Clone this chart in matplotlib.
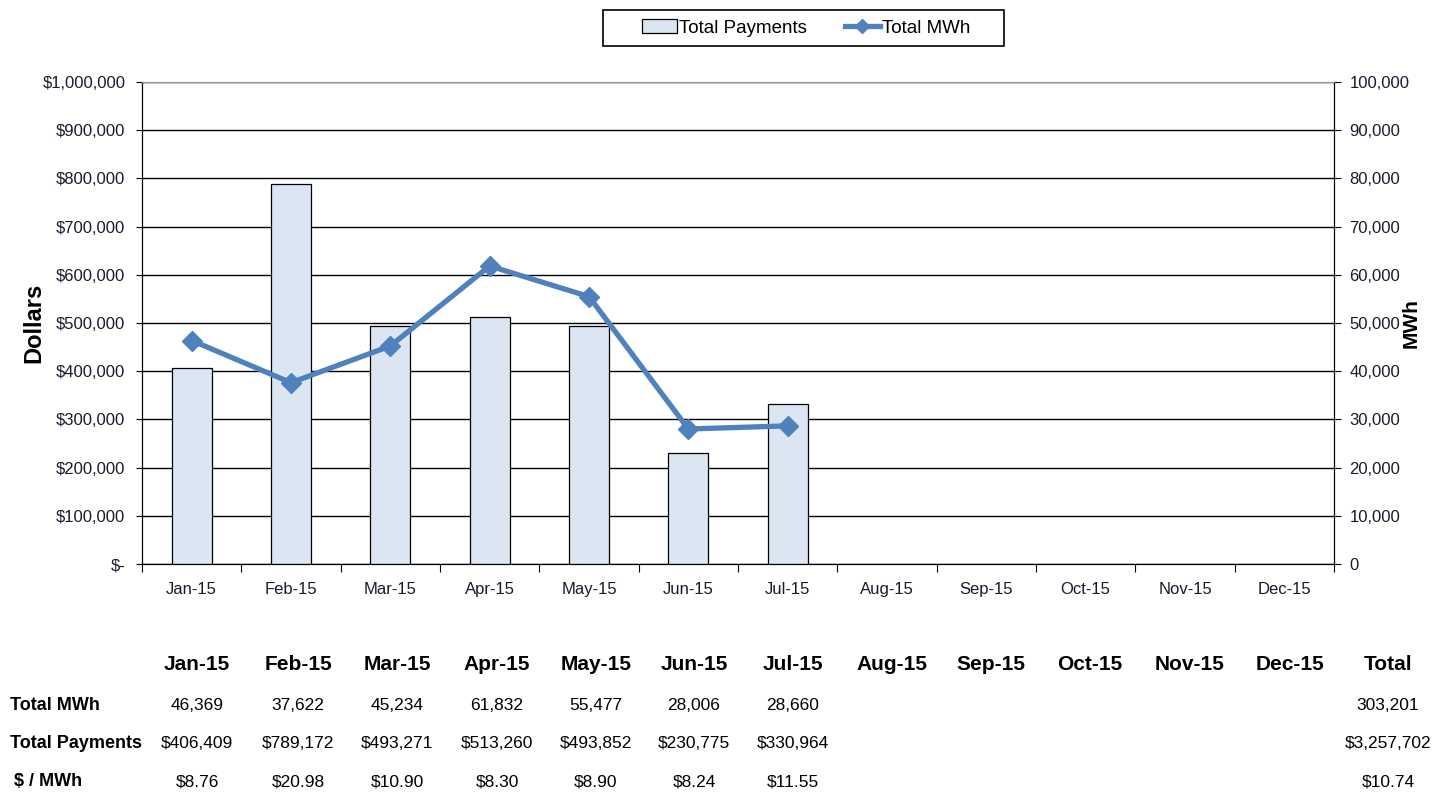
import matplotlib
matplotlib.use("Agg")
import matplotlib.pyplot as plt
from matplotlib.ticker import FuncFormatter, MultipleLocator
from matplotlib.patches import Rectangle
import numpy as np

months = ["Jan-15", "Feb-15", "Mar-15", "Apr-15", "May-15", "Jun-15",
          "Jul-15", "Aug-15", "Sep-15", "Oct-15", "Nov-15", "Dec-15"]
payments = [406409, 789172, 493271, 513260, 493852, 230775, 330964]
mwh = [46369, 37622, 45234, 61832, 55477, 28006, 28660]
tbl_mwh = ["46,369", "37,622", "45,234", "61,832", "55,477", "28,006", "28,660"]
tbl_pay = ["$406,409", "$789,172", "$493,271", "$513,260", "$493,852", "$230,775", "$330,964"]
tbl_rate = ["$8.76", "$20.98", "$10.90", "$8.30", "$8.90", "$8.24", "$11.55"]
total_mwh = "303,201"
total_pay = "$3,257,702"
total_rate = "$10.74"

plt.rcParams['font.family'] = ['Liberation Sans', 'DejaVu Sans']
narrow = ['Liberation Sans', 'DejaVu Sans']

W, H = 1445, 797
fig = plt.figure(figsize=(W/100, H/100), dpi=100)
ax = fig.add_axes([142/W, 1-564/H, (1334-142)/W, (564-82)/H])
ax2 = ax.twinx()

x = np.arange(len(months))
bars = ax.bar(x[:len(payments)], payments, width=0.4, color="#DCE6F2",
              edgecolor="black", linewidth=0.9, label="Total Payments", zorder=3)
ax.set_xlim(-0.5, len(months)-0.5)
ax.set_ylim(0, 1000000)
ax.yaxis.set_major_locator(MultipleLocator(100000))
ax.yaxis.set_major_formatter(FuncFormatter(lambda v, p: "$-" if v == 0 else f"${v:,.0f}"))
ax.grid(axis='y', color='black', linewidth=1.0, zorder=0)
ax.set_axisbelow(True)
ax.set_xticks(np.arange(-0.5, len(months), 1.0), minor=False)
ax.set_xticklabels([])
ax.set_xticks(x, minor=True)
ax.set_xticklabels(months, minor=True)
ax.tick_params(axis='x', which='major', direction='out', length=6, color='black')
ax.tick_params(axis='x', which='minor', length=0, pad=13, labelsize=12, labelcolor='#1a1a2e')
ax.tick_params(axis='y', direction='out', length=4, labelsize=12, labelcolor='#1a1a2e', pad=8)
ax.set_ylabel("Dollars", fontsize=17, fontweight='bold')
ax.yaxis.set_label_coords(-0.081, 0.5)

line, = ax2.plot(x[:len(mwh)], mwh, color="#4F81BD", linewidth=3.8, marker='D',
                 markersize=10, label="Total MWh", zorder=4)
ax2.set_ylim(0, 100000)
ax2.yaxis.set_major_locator(MultipleLocator(10000))
ax2.yaxis.set_major_formatter(FuncFormatter(lambda v, p: f"{v:,.0f}"))
ax2.tick_params(axis='y', direction='out', length=5, labelsize=12, labelcolor='#1a1a2e', pad=6)
ax2.set_ylabel("MWh", fontsize=15, fontweight='bold')
ax2.yaxis.set_label_coords(1.057, 0.5)

for a in (ax, ax2):
    a.spines['top'].set_color('#999999')
    a.spines['left'].set_color('black')
    a.spines['right'].set_color('black')
    a.spines['bottom'].set_color('black')

leg = fig.legend(handles=[bars, line], labels=["Total Payments", "Total MWh"],
                 loc='center', bbox_to_anchor=(806/W, 1-28/H), ncol=2,
                 frameon=False, fontsize=13.5,
                 handlelength=1.9, handletextpad=0.1, columnspacing=2.0,
                 borderpad=0.3, markerscale=0.7)
fig.patches.append(Rectangle((603/W, 1-46/H), (1004-603)/W, 36/H,
                             transform=fig.transFigure, fill=False,
                             edgecolor='black', linewidth=1.2))

# data table
col_x = [197, 298, 397, 497, 596, 694, 793, 892, 991, 1090, 1190, 1290]
total_x = 1388
rows_y = [665, 705, 744, 782]

def ftxt(px, py, s, ha='center', bold=False, size=12.5):
    fig.text(px/W, 1-py/H, s, ha=ha, va='center', family=narrow,
             fontweight='bold' if bold else 'normal', fontsize=size)

for cx, m in zip(col_x, months):
    ftxt(cx, rows_y[0], m, bold=True, size=15)
ftxt(total_x, rows_y[0], "Total", bold=True, size=15)

ftxt(10, rows_y[1], "Total MWh", ha='left', bold=True, size=13)
ftxt(10, rows_y[2], "Total Payments", ha='left', bold=True, size=13)
ftxt(14, rows_y[3], "$ / MWh", ha='left', bold=True, size=13)

for i in range(len(tbl_mwh)):
    ftxt(col_x[i], rows_y[1], tbl_mwh[i])
    ftxt(col_x[i], rows_y[2], tbl_pay[i])
    ftxt(col_x[i], rows_y[3], tbl_rate[i])
ftxt(total_x, rows_y[1], total_mwh)
ftxt(total_x, rows_y[2], total_pay)
ftxt(total_x, rows_y[3], total_rate)

fig.savefig("out.png", dpi=100)
